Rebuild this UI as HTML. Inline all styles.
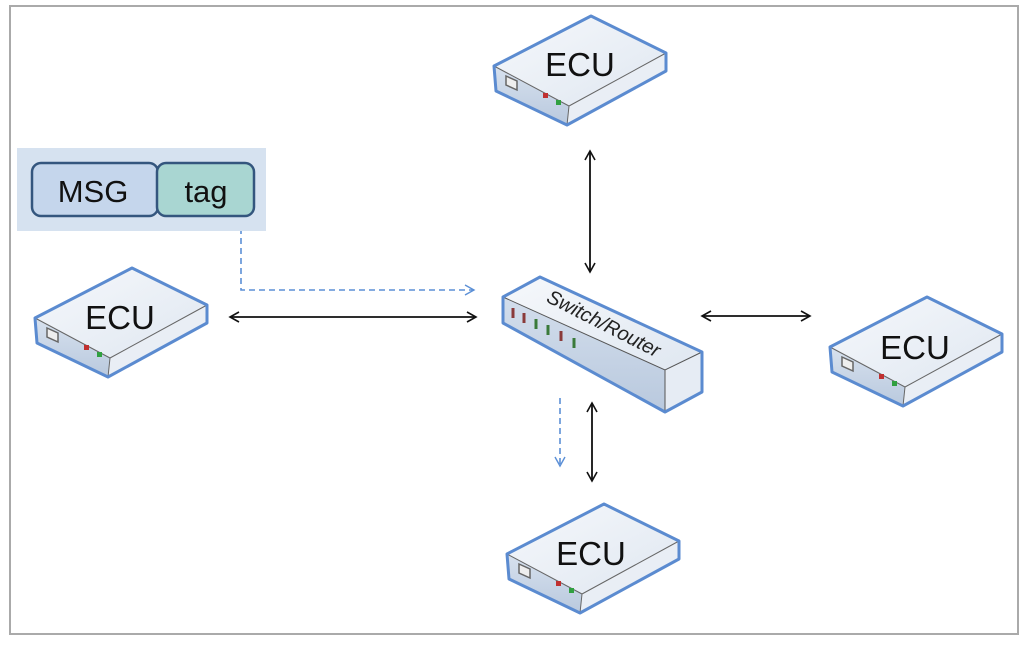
<!DOCTYPE html>
<html><head><style>
body{margin:0;width:1024px;height:640px;background:#fff;overflow:hidden}
</style></head><body>
<svg width="1024" height="640" xmlns="http://www.w3.org/2000/svg" font-family="Liberation Sans, sans-serif">
<defs>
<linearGradient id="tp" x1="0" y1="0" x2="1" y2="1"><stop offset="0" stop-color="#f6f8fb"/><stop offset="1" stop-color="#dfe7f1"/></linearGradient>
<linearGradient id="fr" x1="0" y1="0" x2="0" y2="1"><stop offset="0" stop-color="#d7e1ee"/><stop offset="1" stop-color="#b9c9de"/></linearGradient>
<marker id="ab" markerWidth="12" markerHeight="12" refX="10" refY="6" orient="auto-start-reverse" markerUnits="userSpaceOnUse"><path d="M1,1 L10,6 L1,11" fill="none" stroke="#111" stroke-width="1.6"/></marker>
<marker id="ad" markerWidth="12" markerHeight="12" refX="10" refY="6" orient="auto" markerUnits="userSpaceOnUse"><path d="M1,1 L10,6 L1,11" fill="none" stroke="#5b8fd6" stroke-width="1.4"/></marker>
<g id="ecu">
 <path d="M0,50 L97,0 L172,37 L75,90 Z" fill="url(#tp)"/>
 <path d="M0,50 L75,90 L73,109 L2,75 Z" fill="url(#fr)"/>
 <path d="M75,90 L172,37 L172,55 L73,109 Z" fill="#e9eef5"/>
 <path d="M0,50 L75,90 L172,37 M75,90 L73,109" fill="none" stroke="#666" stroke-width="1"/>
 <path d="M0,50 L97,0 L172,37 L172,55 L73,109 L2,75 Z" fill="none" stroke="#5b8bd0" stroke-width="3" stroke-linejoin="round"/>
 <path d="M12,60 L23,65 L23,74 L12,69 Z" fill="#eee" stroke="#666" stroke-width="1.5"/>
 <rect x="49" y="77" width="5" height="5" fill="#c03030"/>
 <rect x="62" y="84" width="5" height="5" fill="#30a040"/>
</g>
</defs>
<rect x="10" y="6" width="1008" height="628" fill="none" stroke="#aaa" stroke-width="2"/>

<use href="#ecu" x="494" y="16"/>
<use href="#ecu" x="35" y="268"/>
<use href="#ecu" x="830" y="297"/>
<use href="#ecu" x="507" y="504"/>
<g font-size="33" text-anchor="middle" fill="#111">
<text x="580" y="76">ECU</text>
<text x="120" y="329">ECU</text>
<text x="915" y="359">ECU</text>
<text x="591" y="565">ECU</text>
</g>

<!-- switch -->
<path d="M503,297 L540,277 L702,352 L702,392 L665,412 L503,323 Z" fill="url(#fr)"/>
<path d="M503,297 L540,277 L702,352 L665,370 Z" fill="url(#tp)"/>
<path d="M665,370 L702,352 L702,392 L665,412 Z" fill="#e6ecf4"/>
<path d="M503,297 L665,370 L702,352 M665,370 L665,412" fill="none" stroke="#555" stroke-width="1"/>
<path d="M503,297 L540,277 L702,352 L702,392 L665,412 L503,323 Z" fill="none" stroke="#5b8bd0" stroke-width="3" stroke-linejoin="round"/>
<g stroke-width="3">
<line x1="513" y1="308" x2="513" y2="318" stroke="#8a3a3a"/>
<line x1="524" y1="313" x2="524" y2="323" stroke="#8a3a3a"/>
<line x1="536" y1="319" x2="536" y2="329" stroke="#3a7a3a"/>
<line x1="548" y1="325" x2="548" y2="335" stroke="#3a7a3a"/>
<line x1="561" y1="331" x2="561" y2="341" stroke="#8a3a3a"/>
<line x1="574" y1="338" x2="574" y2="348" stroke="#3a7a3a"/>
</g>
<text x="603" y="330" font-size="20" font-style="italic" text-anchor="middle" fill="#222" transform="rotate(27 603 325)">Switch/Router</text>

<!-- arrows -->
<g stroke="#111" stroke-width="1.8" fill="none">
<line x1="590" y1="151" x2="590" y2="272" marker-start="url(#ab)" marker-end="url(#ab)"/>
<line x1="230" y1="317" x2="476" y2="317" marker-start="url(#ab)" marker-end="url(#ab)"/>
<line x1="702" y1="316" x2="810" y2="316" marker-start="url(#ab)" marker-end="url(#ab)"/>
<line x1="592" y1="403" x2="592" y2="481" marker-start="url(#ab)" marker-end="url(#ab)"/>
</g>
<g stroke="#5b8fd6" stroke-width="1.6" fill="none" stroke-dasharray="6,4">
<path d="M241,228 L241,290 L474,290" marker-end="url(#ad)"/>
<line x1="560" y1="398" x2="560" y2="466" marker-end="url(#ad)"/>
</g>

<!-- msg box -->
<rect x="17" y="148" width="249" height="83" fill="#d6e2f0"/>
<rect x="32" y="163" width="126" height="53" rx="9" fill="#c5d6ec" stroke="#34567e" stroke-width="2.5"/>
<rect x="157" y="163" width="97" height="53" rx="9" fill="#a9d6d2" stroke="#34567e" stroke-width="2.5"/>
<text x="93" y="202" font-size="31" text-anchor="middle" fill="#111">MSG</text>
<text x="206" y="202" font-size="31" text-anchor="middle" fill="#111">tag</text>
</svg>
</body></html>
